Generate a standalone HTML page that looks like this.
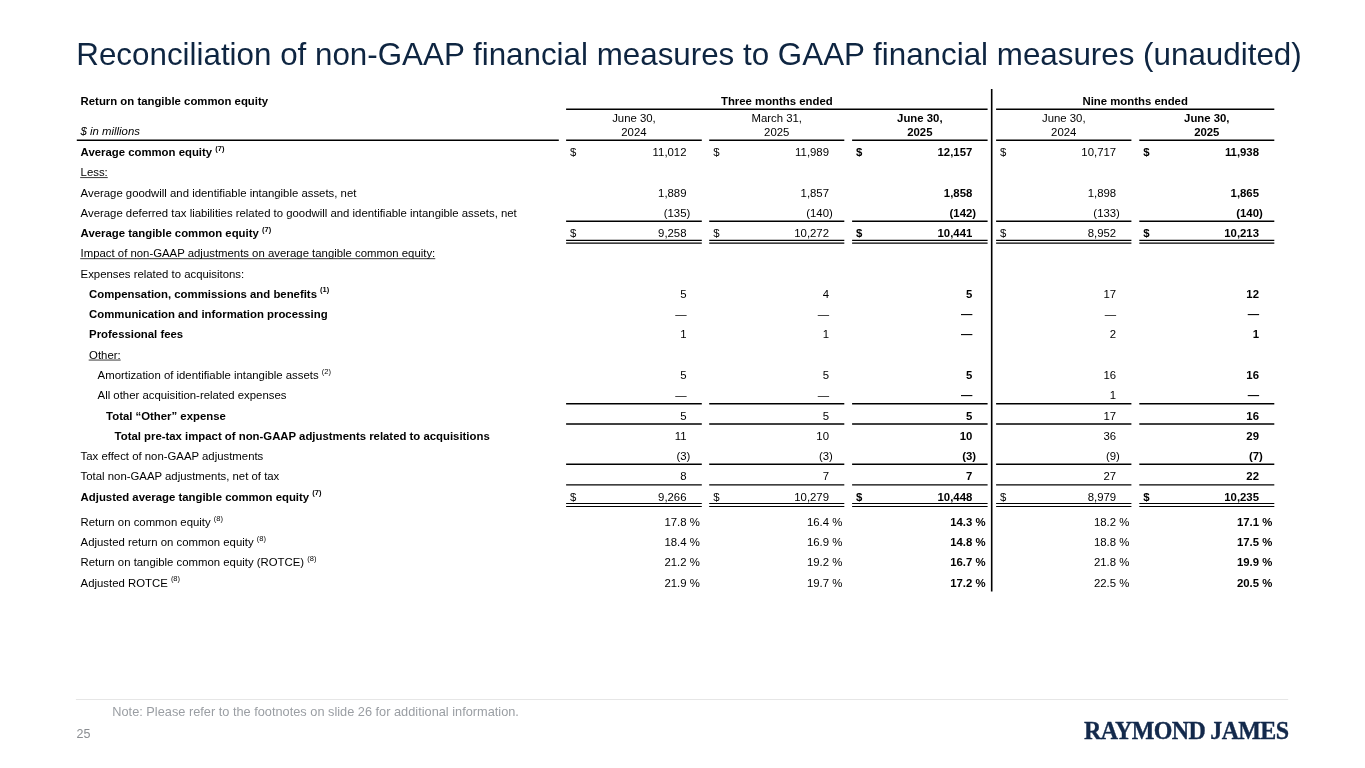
<!DOCTYPE html>
<html lang="en"><head><meta charset="utf-8">
<title>Reconciliation of non-GAAP financial measures to GAAP financial measures (unaudited)</title>
<style>
html,body{margin:0;padding:0;background:#fff;}
body{width:1365px;height:768px;position:relative;overflow:hidden;font-family:"Liberation Sans",Arial,sans-serif;}
h1{position:absolute;margin:0;left:0;top:0;font-weight:normal;}
svg{position:absolute;left:0;top:0;will-change:transform;}
.t text{font-family:"Liberation Sans",Arial,sans-serif;font-size:11.36px;fill:#000;}
.t .b{font-weight:bold;}
.t .i{font-style:italic;}

.t .sup{font-size:7.5px;font-weight:normal;}
.t .b .sup{font-weight:bold;}
.lines line{stroke:#000;}
</style></head>
<body>
<svg width="1365" height="768" viewBox="0 0 1365 768">
<text x="76.3" y="65" style="font-family:'Liberation Sans',Arial,sans-serif;font-size:31.35px;fill:#0e2541">Reconciliation of non-GAAP financial measures to GAAP financial measures (unaudited)</text>
<g class="t">
<text x="80.60" y="104.80" class="b">Return on tangible common equity</text>
<text x="80.60" y="135.20" class="i">$ in millions</text>
<text x="776.85" y="104.70" class="b" text-anchor="middle">Three months ended</text>
<text x="1135.20" y="104.70" class="b" text-anchor="middle">Nine months ended</text>
<text x="633.95" y="121.90" text-anchor="middle">June 30,</text>
<text x="633.95" y="135.50" text-anchor="middle">2024</text>
<text x="776.75" y="121.90" text-anchor="middle">March 31,</text>
<text x="776.75" y="135.50" text-anchor="middle">2025</text>
<text x="919.85" y="121.90" class="b" text-anchor="middle">June 30,</text>
<text x="919.85" y="135.50" class="b" text-anchor="middle">2025</text>
<text x="1063.75" y="121.90" text-anchor="middle">June 30,</text>
<text x="1063.75" y="135.50" text-anchor="middle">2024</text>
<text x="1206.80" y="121.90" class="b" text-anchor="middle">June 30,</text>
<text x="1206.80" y="135.50" class="b" text-anchor="middle">2025</text>
<text x="80.60" y="156.00" class="b">Average common equity <tspan class="sup" dx="0" dy="-5.5">(7)</tspan></text>
<text x="686.50" y="156.00" text-anchor="end">11,012</text>
<text x="570.10" y="156.00">$</text>
<text x="829.00" y="156.00" text-anchor="end">11,989</text>
<text x="713.20" y="156.00">$</text>
<text x="972.30" y="156.00" class="b" text-anchor="end">12,157</text>
<text x="856.10" y="156.00" class="b">$</text>
<text x="1116.10" y="156.00" text-anchor="end">10,717</text>
<text x="1000.10" y="156.00">$</text>
<text x="1259.00" y="156.00" class="b" text-anchor="end">11,938</text>
<text x="1143.30" y="156.00" class="b">$</text>
<text x="80.60" y="176.28" class="u">Less:</text>
<text x="80.60" y="196.55">Average goodwill and identifiable intangible assets, net</text>
<text x="686.50" y="196.55" text-anchor="end">1,889</text>
<text x="829.00" y="196.55" text-anchor="end">1,857</text>
<text x="972.30" y="196.55" class="b" text-anchor="end">1,858</text>
<text x="1116.10" y="196.55" text-anchor="end">1,898</text>
<text x="1259.00" y="196.55" class="b" text-anchor="end">1,865</text>
<text x="80.60" y="216.82">Average deferred tax liabilities related to goodwill and identifiable intangible assets, net</text>
<text x="686.50" y="216.82" text-anchor="end">(135</text>
<text x="686.50" y="216.82">)</text>
<text x="829.00" y="216.82" text-anchor="end">(140</text>
<text x="829.00" y="216.82">)</text>
<text x="972.30" y="216.82" class="b" text-anchor="end">(142</text>
<text x="972.30" y="216.82" class="b">)</text>
<text x="1116.10" y="216.82" text-anchor="end">(133</text>
<text x="1116.10" y="216.82">)</text>
<text x="1259.00" y="216.82" class="b" text-anchor="end">(140</text>
<text x="1259.00" y="216.82" class="b">)</text>
<text x="80.60" y="237.10" class="b">Average tangible common equity <tspan class="sup" dx="0" dy="-5.5">(7)</tspan></text>
<text x="686.50" y="237.10" text-anchor="end">9,258</text>
<text x="570.10" y="237.10">$</text>
<text x="829.00" y="237.10" text-anchor="end">10,272</text>
<text x="713.20" y="237.10">$</text>
<text x="972.30" y="237.10" class="b" text-anchor="end">10,441</text>
<text x="856.10" y="237.10" class="b">$</text>
<text x="1116.10" y="237.10" text-anchor="end">8,952</text>
<text x="1000.10" y="237.10">$</text>
<text x="1259.00" y="237.10" class="b" text-anchor="end">10,213</text>
<text x="1143.30" y="237.10" class="b">$</text>
<text x="80.60" y="257.38" class="u">Impact of non-GAAP adjustments on average tangible common equity:</text>
<text x="80.60" y="277.65">Expenses related to acquisitons:</text>
<text x="89.10" y="297.92" class="b">Compensation, commissions and benefits <tspan class="sup" dx="0" dy="-5.5">(1)</tspan></text>
<text x="686.50" y="297.92" text-anchor="end">5</text>
<text x="829.00" y="297.92" text-anchor="end">4</text>
<text x="972.30" y="297.92" class="b" text-anchor="end">5</text>
<text x="1116.10" y="297.92" text-anchor="end">17</text>
<text x="1259.00" y="297.92" class="b" text-anchor="end">12</text>
<text x="89.10" y="318.20" class="b">Communication and information processing</text>
<text x="686.50" y="318.20" text-anchor="end">—</text>
<text x="829.00" y="318.20" text-anchor="end">—</text>
<text x="972.30" y="318.20" class="b" text-anchor="end">—</text>
<text x="1116.10" y="318.20" text-anchor="end">—</text>
<text x="1259.00" y="318.20" class="b" text-anchor="end">—</text>
<text x="89.10" y="338.48" class="b">Professional fees</text>
<text x="686.50" y="338.48" text-anchor="end">1</text>
<text x="829.00" y="338.48" text-anchor="end">1</text>
<text x="972.30" y="338.48" class="b" text-anchor="end">—</text>
<text x="1116.10" y="338.48" text-anchor="end">2</text>
<text x="1259.00" y="338.48" class="b" text-anchor="end">1</text>
<text x="89.10" y="358.75" class="u">Other:</text>
<text x="97.60" y="379.02" class="">Amortization of identifiable intangible assets <tspan class="sup" dx="0" dy="-5.5">(2)</tspan></text>
<text x="686.50" y="379.02" text-anchor="end">5</text>
<text x="829.00" y="379.02" text-anchor="end">5</text>
<text x="972.30" y="379.02" class="b" text-anchor="end">5</text>
<text x="1116.10" y="379.02" text-anchor="end">16</text>
<text x="1259.00" y="379.02" class="b" text-anchor="end">16</text>
<text x="97.60" y="399.30">All other acquisition-related expenses</text>
<text x="686.50" y="399.30" text-anchor="end">—</text>
<text x="829.00" y="399.30" text-anchor="end">—</text>
<text x="972.30" y="399.30" class="b" text-anchor="end">—</text>
<text x="1116.10" y="399.30" text-anchor="end">1</text>
<text x="1259.00" y="399.30" class="b" text-anchor="end">—</text>
<text x="106.10" y="419.57" class="b">Total “Other” expense</text>
<text x="686.50" y="419.57" text-anchor="end">5</text>
<text x="829.00" y="419.57" text-anchor="end">5</text>
<text x="972.30" y="419.57" class="b" text-anchor="end">5</text>
<text x="1116.10" y="419.57" text-anchor="end">17</text>
<text x="1259.00" y="419.57" class="b" text-anchor="end">16</text>
<text x="114.60" y="439.85" class="b">Total pre-tax impact of non-GAAP adjustments related to acquisitions</text>
<text x="686.50" y="439.85" text-anchor="end">11</text>
<text x="829.00" y="439.85" text-anchor="end">10</text>
<text x="972.30" y="439.85" class="b" text-anchor="end">10</text>
<text x="1116.10" y="439.85" text-anchor="end">36</text>
<text x="1259.00" y="439.85" class="b" text-anchor="end">29</text>
<text x="80.60" y="460.12">Tax effect of non-GAAP adjustments</text>
<text x="686.50" y="460.12" text-anchor="end">(3</text>
<text x="686.50" y="460.12">)</text>
<text x="829.00" y="460.12" text-anchor="end">(3</text>
<text x="829.00" y="460.12">)</text>
<text x="972.30" y="460.12" class="b" text-anchor="end">(3</text>
<text x="972.30" y="460.12" class="b">)</text>
<text x="1116.10" y="460.12" text-anchor="end">(9</text>
<text x="1116.10" y="460.12">)</text>
<text x="1259.00" y="460.12" class="b" text-anchor="end">(7</text>
<text x="1259.00" y="460.12" class="b">)</text>
<text x="80.60" y="480.40">Total non-GAAP adjustments, net of tax</text>
<text x="686.50" y="480.40" text-anchor="end">8</text>
<text x="829.00" y="480.40" text-anchor="end">7</text>
<text x="972.30" y="480.40" class="b" text-anchor="end">7</text>
<text x="1116.10" y="480.40" text-anchor="end">27</text>
<text x="1259.00" y="480.40" class="b" text-anchor="end">22</text>
<text x="80.60" y="500.67" class="b">Adjusted average tangible common equity <tspan class="sup" dx="0" dy="-5.5">(7)</tspan></text>
<text x="686.50" y="500.67" text-anchor="end">9,266</text>
<text x="570.10" y="500.67">$</text>
<text x="829.00" y="500.67" text-anchor="end">10,279</text>
<text x="713.20" y="500.67">$</text>
<text x="972.30" y="500.67" class="b" text-anchor="end">10,448</text>
<text x="856.10" y="500.67" class="b">$</text>
<text x="1116.10" y="500.67" text-anchor="end">8,979</text>
<text x="1000.10" y="500.67">$</text>
<text x="1259.00" y="500.67" class="b" text-anchor="end">10,235</text>
<text x="1143.30" y="500.67" class="b">$</text>
<text x="80.60" y="526.00" class="">Return on common equity <tspan class="sup" dx="0" dy="-5.5">(8)</tspan></text>
<text x="686.50" y="526.00" text-anchor="end">17.8</text>
<text x="686.50" y="526.00"> %</text>
<text x="829.00" y="526.00" text-anchor="end">16.4</text>
<text x="829.00" y="526.00"> %</text>
<text x="972.30" y="526.00" class="b" text-anchor="end">14.3</text>
<text x="972.30" y="526.00" class="b"> %</text>
<text x="1116.10" y="526.00" text-anchor="end">18.2</text>
<text x="1116.10" y="526.00"> %</text>
<text x="1259.00" y="526.00" class="b" text-anchor="end">17.1</text>
<text x="1259.00" y="526.00" class="b"> %</text>
<text x="80.60" y="546.20" class="">Adjusted return on common equity <tspan class="sup" dx="0" dy="-5.5">(8)</tspan></text>
<text x="686.50" y="546.20" text-anchor="end">18.4</text>
<text x="686.50" y="546.20"> %</text>
<text x="829.00" y="546.20" text-anchor="end">16.9</text>
<text x="829.00" y="546.20"> %</text>
<text x="972.30" y="546.20" class="b" text-anchor="end">14.8</text>
<text x="972.30" y="546.20" class="b"> %</text>
<text x="1116.10" y="546.20" text-anchor="end">18.8</text>
<text x="1116.10" y="546.20"> %</text>
<text x="1259.00" y="546.20" class="b" text-anchor="end">17.5</text>
<text x="1259.00" y="546.20" class="b"> %</text>
<text x="80.60" y="566.40" class="">Return on tangible common equity (ROTCE) <tspan class="sup" dx="0" dy="-5.5">(8)</tspan></text>
<text x="686.50" y="566.40" text-anchor="end">21.2</text>
<text x="686.50" y="566.40"> %</text>
<text x="829.00" y="566.40" text-anchor="end">19.2</text>
<text x="829.00" y="566.40"> %</text>
<text x="972.30" y="566.40" class="b" text-anchor="end">16.7</text>
<text x="972.30" y="566.40" class="b"> %</text>
<text x="1116.10" y="566.40" text-anchor="end">21.8</text>
<text x="1116.10" y="566.40"> %</text>
<text x="1259.00" y="566.40" class="b" text-anchor="end">19.9</text>
<text x="1259.00" y="566.40" class="b"> %</text>
<text x="80.60" y="586.60" class="">Adjusted ROTCE <tspan class="sup" dx="0" dy="-5.5">(8)</tspan></text>
<text x="686.50" y="586.60" text-anchor="end">21.9</text>
<text x="686.50" y="586.60"> %</text>
<text x="829.00" y="586.60" text-anchor="end">19.7</text>
<text x="829.00" y="586.60"> %</text>
<text x="972.30" y="586.60" class="b" text-anchor="end">17.2</text>
<text x="972.30" y="586.60" class="b"> %</text>
<text x="1116.10" y="586.60" text-anchor="end">22.5</text>
<text x="1116.10" y="586.60"> %</text>
<text x="1259.00" y="586.60" class="b" text-anchor="end">20.5</text>
<text x="1259.00" y="586.60" class="b"> %</text>
</g>
<g class="lines">
<line x1="566.10" x2="987.60" y1="109.25" y2="109.25" stroke-width="1.5"/>
<line x1="996.10" x2="1274.30" y1="109.25" y2="109.25" stroke-width="1.5"/>
<line x1="76.80" x2="558.80" y1="140.30" y2="140.30" stroke-width="1.4"/>
<line x1="566.10" x2="701.80" y1="140.30" y2="140.30" stroke-width="1.4"/>
<line x1="566.10" x2="701.80" y1="221.30" y2="221.30" stroke-width="1.4"/>
<line x1="566.10" x2="701.80" y1="403.70" y2="403.70" stroke-width="1.4"/>
<line x1="566.10" x2="701.80" y1="424.00" y2="424.00" stroke-width="1.4"/>
<line x1="566.10" x2="701.80" y1="464.30" y2="464.30" stroke-width="1.4"/>
<line x1="566.10" x2="701.80" y1="484.90" y2="484.90" stroke-width="1.4"/>
<line x1="566.10" x2="701.80" y1="240.30" y2="240.30" stroke-width="1.3"/>
<line x1="566.10" x2="701.80" y1="243.20" y2="243.20" stroke-width="1.3"/>
<line x1="566.10" x2="701.80" y1="503.50" y2="503.50" stroke-width="1.2"/>
<line x1="566.10" x2="701.80" y1="506.50" y2="506.50" stroke-width="1.2"/>
<line x1="709.20" x2="844.30" y1="140.30" y2="140.30" stroke-width="1.4"/>
<line x1="709.20" x2="844.30" y1="221.30" y2="221.30" stroke-width="1.4"/>
<line x1="709.20" x2="844.30" y1="403.70" y2="403.70" stroke-width="1.4"/>
<line x1="709.20" x2="844.30" y1="424.00" y2="424.00" stroke-width="1.4"/>
<line x1="709.20" x2="844.30" y1="464.30" y2="464.30" stroke-width="1.4"/>
<line x1="709.20" x2="844.30" y1="484.90" y2="484.90" stroke-width="1.4"/>
<line x1="709.20" x2="844.30" y1="240.30" y2="240.30" stroke-width="1.3"/>
<line x1="709.20" x2="844.30" y1="243.20" y2="243.20" stroke-width="1.3"/>
<line x1="709.20" x2="844.30" y1="503.50" y2="503.50" stroke-width="1.2"/>
<line x1="709.20" x2="844.30" y1="506.50" y2="506.50" stroke-width="1.2"/>
<line x1="852.10" x2="987.60" y1="140.30" y2="140.30" stroke-width="1.4"/>
<line x1="852.10" x2="987.60" y1="221.30" y2="221.30" stroke-width="1.4"/>
<line x1="852.10" x2="987.60" y1="403.70" y2="403.70" stroke-width="1.4"/>
<line x1="852.10" x2="987.60" y1="424.00" y2="424.00" stroke-width="1.4"/>
<line x1="852.10" x2="987.60" y1="464.30" y2="464.30" stroke-width="1.4"/>
<line x1="852.10" x2="987.60" y1="484.90" y2="484.90" stroke-width="1.4"/>
<line x1="852.10" x2="987.60" y1="240.30" y2="240.30" stroke-width="1.3"/>
<line x1="852.10" x2="987.60" y1="243.20" y2="243.20" stroke-width="1.3"/>
<line x1="852.10" x2="987.60" y1="503.50" y2="503.50" stroke-width="1.2"/>
<line x1="852.10" x2="987.60" y1="506.50" y2="506.50" stroke-width="1.2"/>
<line x1="996.10" x2="1131.40" y1="140.30" y2="140.30" stroke-width="1.4"/>
<line x1="996.10" x2="1131.40" y1="221.30" y2="221.30" stroke-width="1.4"/>
<line x1="996.10" x2="1131.40" y1="403.70" y2="403.70" stroke-width="1.4"/>
<line x1="996.10" x2="1131.40" y1="424.00" y2="424.00" stroke-width="1.4"/>
<line x1="996.10" x2="1131.40" y1="464.30" y2="464.30" stroke-width="1.4"/>
<line x1="996.10" x2="1131.40" y1="484.90" y2="484.90" stroke-width="1.4"/>
<line x1="996.10" x2="1131.40" y1="240.30" y2="240.30" stroke-width="1.3"/>
<line x1="996.10" x2="1131.40" y1="243.20" y2="243.20" stroke-width="1.3"/>
<line x1="996.10" x2="1131.40" y1="503.50" y2="503.50" stroke-width="1.2"/>
<line x1="996.10" x2="1131.40" y1="506.50" y2="506.50" stroke-width="1.2"/>
<line x1="1139.30" x2="1274.30" y1="140.30" y2="140.30" stroke-width="1.4"/>
<line x1="1139.30" x2="1274.30" y1="221.30" y2="221.30" stroke-width="1.4"/>
<line x1="1139.30" x2="1274.30" y1="403.70" y2="403.70" stroke-width="1.4"/>
<line x1="1139.30" x2="1274.30" y1="424.00" y2="424.00" stroke-width="1.4"/>
<line x1="1139.30" x2="1274.30" y1="464.30" y2="464.30" stroke-width="1.4"/>
<line x1="1139.30" x2="1274.30" y1="484.90" y2="484.90" stroke-width="1.4"/>
<line x1="1139.30" x2="1274.30" y1="240.30" y2="240.30" stroke-width="1.3"/>
<line x1="1139.30" x2="1274.30" y1="243.20" y2="243.20" stroke-width="1.3"/>
<line x1="1139.30" x2="1274.30" y1="503.50" y2="503.50" stroke-width="1.2"/>
<line x1="1139.30" x2="1274.30" y1="506.50" y2="506.50" stroke-width="1.2"/>
<line x1="80.20" x2="107.76" y1="177.58" y2="177.58" stroke-width="0.9" style="stroke:#222"/>
<line x1="80.20" x2="435.26" y1="258.68" y2="258.68" stroke-width="0.9" style="stroke:#222"/>
<line x1="88.70" x2="120.68" y1="360.05" y2="360.05" stroke-width="0.9" style="stroke:#222"/>
<line x1="991.7" x2="991.7" y1="89.1" y2="591.6" stroke-width="1.6"/>
</g>
<line x1="75.9" x2="1288.2" y1="699.5" y2="699.5" stroke="#e6e6e6" stroke-width="1"/>
<text x="112.3" y="715.8" style="font-family:'Liberation Sans',Arial,sans-serif;font-size:12.78px;fill:#9a9ea3">Note: Please refer to the footnotes on slide 26 for additional information.</text>
<text x="76.5" y="738.1" style="font-family:'Liberation Sans',Arial,sans-serif;font-size:12.5px;fill:#8a8d91">25</text>
<text x="0" y="0" transform="translate(1084,739.2) scale(0.96,1)" style="font-family:'Liberation Serif','Times New Roman',serif;font-weight:bold;font-size:25px;letter-spacing:-0.7px;fill:#13294b;stroke:#13294b;stroke-width:0.35px">RAYMOND JAMES</text>
</svg>
</body></html>
